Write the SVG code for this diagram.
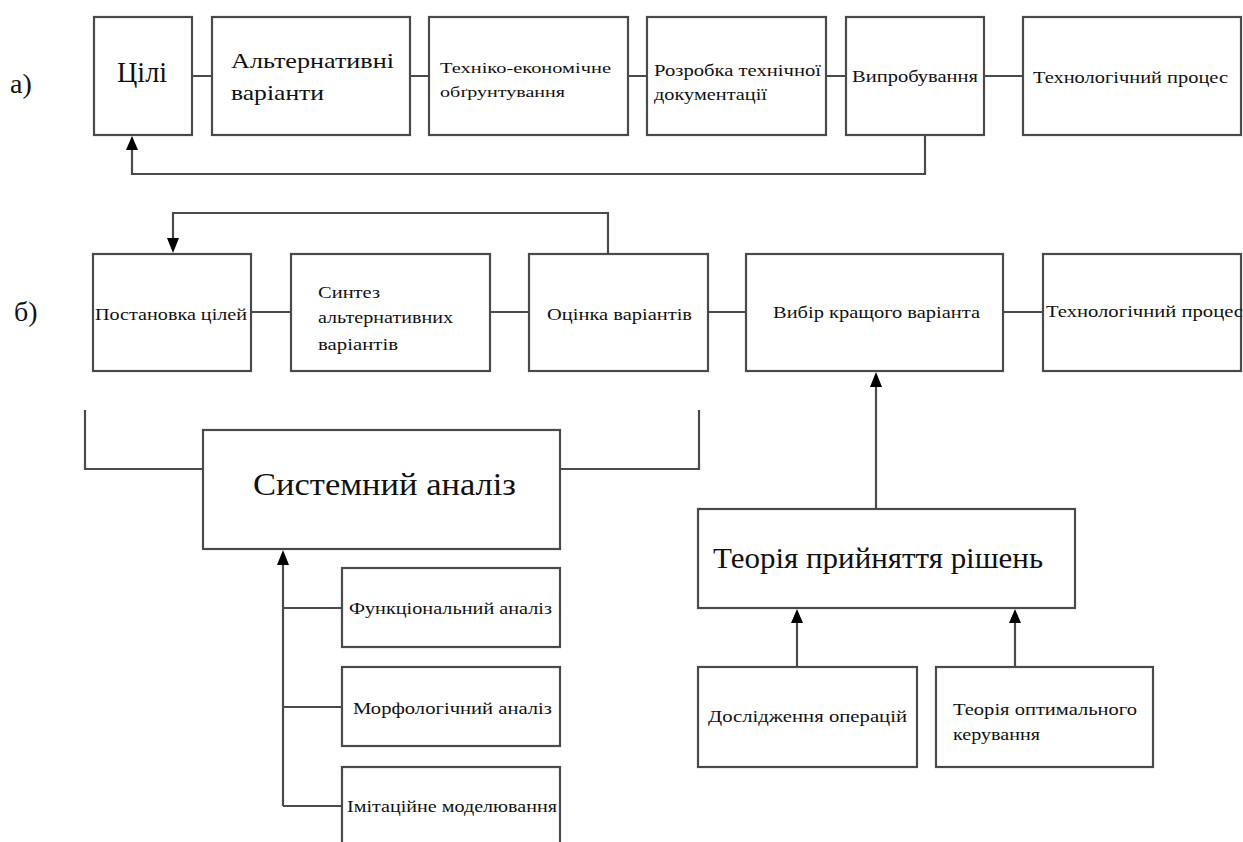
<svg xmlns="http://www.w3.org/2000/svg" width="1243" height="842" viewBox="0 0 1243 842">
<defs>
<style>
.b{fill:#fff;stroke:#4a4a4a;stroke-width:2.2}
.c{fill:none;stroke:#4a4a4a;stroke-width:2.2}
.h{fill:#000}
.s{font-size:17px}
.t{font-size:15px}
.m{font-size:22px}
.l{font-size:30px}
</style>
</defs>
<rect width="1243" height="842" fill="#fff"/>
<g id="connectors">
<path class="c" d="M192,76 H212 M410,76 H429 M628,76 H647 M826,76 H846 M984,76 H1023"/>
<path class="c" d="M925,135 V174 H132 V150"/>
<path class="h" d="M126,150 L132,136 L138,150 Z"/>
<path class="c" d="M251,312 H291 M490,312 H529 M708,312 H746 M1003,312 H1043"/>
<path class="c" d="M608,254 V213 H173 V238"/>
<path class="h" d="M167,238 L173,253 L179,238 Z"/>
<path class="c" d="M85,410 V469 H203 M560,469 H699 V410"/>
<path class="c" d="M283,806 V565 M283,608 H342 M283,707 H342 M283,806 H342"/>
<path class="h" d="M277,565 L283,550 L289,565 Z"/>
<path class="c" d="M876,509 V387"/>
<path class="h" d="M870,387 L876,372 L882,387 Z"/>
<path class="c" d="M797,667 V623 M1015,667 V623"/>
<path class="h" d="M791,623 L797,609 L803,623 Z M1009,623 L1015,609 L1021,623 Z"/>
</g>
<g font-family="Times New Roman, Liberation Serif, serif" fill="#111">
<g id="label-a"><text x="10" y="93" font-size="28">а)</text></g>
<g id="label-b"><text x="14" y="321" font-size="28">б)</text></g>
<g id="a1"><rect class="b" x="94" y="17" width="98" height="118"/><text class="l" x="117" y="82" textLength="50" lengthAdjust="spacingAndGlyphs">Цілі</text></g>
<g id="a2"><rect class="b" x="212" y="17" width="198" height="118"/><text class="m" x="231" y="68" textLength="163" lengthAdjust="spacingAndGlyphs">Альтернативні</text><text class="m" x="231" y="100" textLength="93" lengthAdjust="spacingAndGlyphs">варіанти</text></g>
<g id="a3"><rect class="b" x="429" y="17" width="199" height="118"/><text class="t" x="440" y="73" textLength="171" lengthAdjust="spacingAndGlyphs">Техніко-економічне</text><text class="t" x="440" y="97" textLength="125" lengthAdjust="spacingAndGlyphs">обґрунтування</text></g>
<g id="a4"><rect class="b" x="647" y="17" width="179" height="118"/><text class="s" x="654" y="76" textLength="167" lengthAdjust="spacingAndGlyphs">Розробка технічної</text><text class="s" x="654" y="100" textLength="113" lengthAdjust="spacingAndGlyphs">документації</text></g>
<g id="a5"><rect class="b" x="846" y="17" width="138" height="118"/><text class="s" x="852" y="82" textLength="126" lengthAdjust="spacingAndGlyphs">Випробування</text></g>
<g id="a6"><rect class="b" x="1023" y="17" width="218" height="118"/><text class="s" x="1033" y="83" textLength="195" lengthAdjust="spacingAndGlyphs">Технологічний процес</text></g>
<g id="b1"><rect class="b" x="93" y="254" width="158" height="117"/><text class="s" x="95" y="320" textLength="152" lengthAdjust="spacingAndGlyphs">Постановка цілей</text></g>
<g id="b2"><rect class="b" x="291" y="254" width="199" height="117"/><text class="s" x="318" y="298" textLength="62" lengthAdjust="spacingAndGlyphs">Синтез</text><text class="s" x="318" y="323" textLength="135" lengthAdjust="spacingAndGlyphs">альтернативних</text><text class="s" x="318" y="350" textLength="80" lengthAdjust="spacingAndGlyphs">варіантів</text></g>
<g id="b3"><rect class="b" x="529" y="254" width="179" height="117"/><text class="s" x="547" y="320" textLength="145" lengthAdjust="spacingAndGlyphs">Оцінка варіантів</text></g>
<g id="b4"><rect class="b" x="746" y="254" width="257" height="117"/><text class="s" x="773" y="318" textLength="207" lengthAdjust="spacingAndGlyphs">Вибір кращого варіанта</text></g>
<g id="b5"><rect class="b" x="1043" y="254" width="198" height="117"/><text class="s" x="1046" y="317" textLength="197" lengthAdjust="spacingAndGlyphs">Технологічний процес</text></g>
<g id="sys"><rect class="b" x="203" y="430" width="357" height="119"/><text x="253" y="495" font-size="32" textLength="263" lengthAdjust="spacingAndGlyphs">Системний аналіз</text></g>
<g id="f1"><rect class="b" x="342" y="568" width="218" height="79"/><text class="s" x="349" y="614" textLength="203" lengthAdjust="spacingAndGlyphs">Функціональний аналіз</text></g>
<g id="f2"><rect class="b" x="342" y="667" width="218" height="79"/><text class="s" x="353" y="714" textLength="199" lengthAdjust="spacingAndGlyphs">Морфологічний аналіз</text></g>
<g id="f3"><rect class="b" x="342" y="767" width="218" height="90"/><text class="s" x="347" y="812" textLength="210" lengthAdjust="spacingAndGlyphs">Імітаційне моделювання</text></g>
<g id="dec"><rect class="b" x="698" y="509" width="377" height="99"/><text class="l" x="713" y="568" textLength="330" lengthAdjust="spacingAndGlyphs">Теорія прийняття рішень</text></g>
<g id="d1"><rect class="b" x="698" y="667" width="219" height="100"/><text class="s" x="708" y="722" textLength="199" lengthAdjust="spacingAndGlyphs">Дослідження операцій</text></g>
<g id="d2"><rect class="b" x="936" y="667" width="217" height="100"/><text class="s" x="953" y="715" textLength="184" lengthAdjust="spacingAndGlyphs">Теорія оптимального</text><text class="s" x="953" y="740" textLength="87" lengthAdjust="spacingAndGlyphs">керування</text></g>
</g>
</svg>
